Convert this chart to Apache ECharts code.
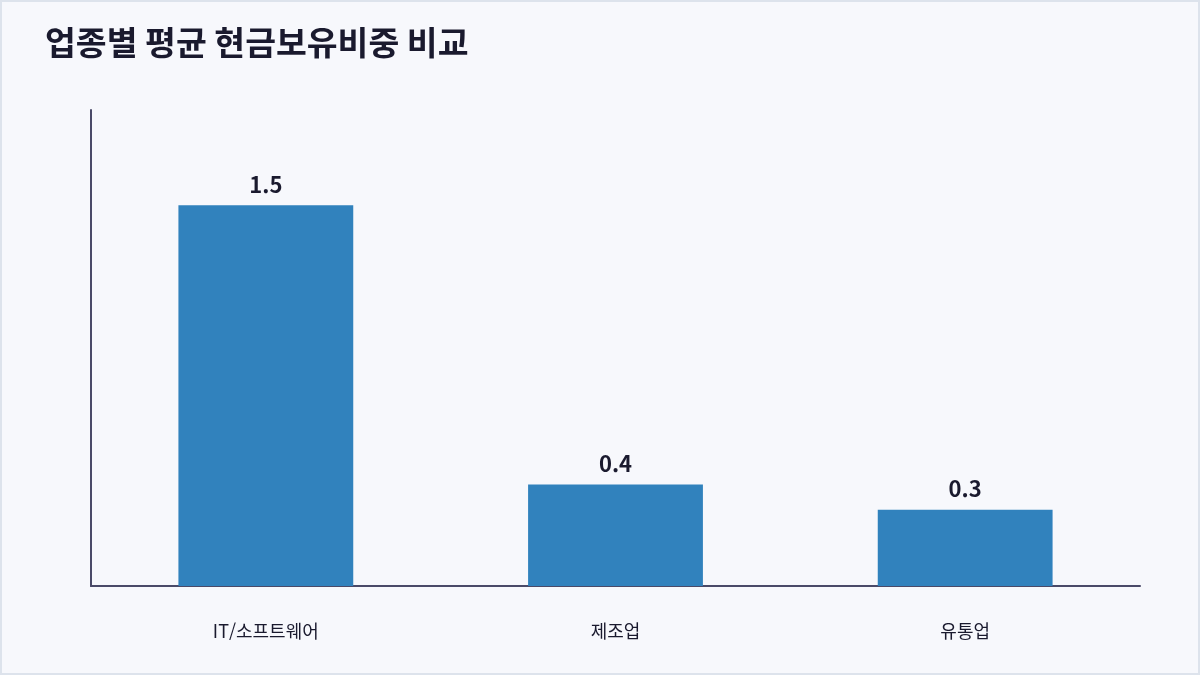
<!DOCTYPE html>
<html lang="ko">
<head>
<meta charset="UTF-8">
<title>업종별 평균 현금보유비중 비교</title>
<script src="https://cdn.jsdelivr.net/npm/echarts@6/dist/echarts.min.js"></script>
<style>
  html, body { margin: 0; padding: 0; background: #f7f8fc; }
  #chart { width: 1200px; height: 675px; }
</style>
</head>
<body>
<div id="chart"></div>
<script>
    var industries = ['IT/소프트웨어', '제조업', '유통업'];
    var cashRatio = [1.5, 0.4, 0.3];

    var chart = echarts.init(document.getElementById('chart'));
    var font = '"Noto Sans CJK KR", "Noto Sans", sans-serif';

    chart.setOption({
        backgroundColor: '#f7f8fc',
        textStyle: { fontFamily: font },
        title: {
            text: '업종별 평균 현금보유비중 비교',
            left: 40,
            top: 21,
            textStyle: { fontSize: 33.5, fontWeight: 'bold', color: '#1a1a2e', fontFamily: font }
        },
        graphic: [{
            type: 'rect',
            shape: { x: 1, y: 1, width: 1198, height: 673 },
            style: { fill: 'none', stroke: '#dde3ec', lineWidth: 2 },
            silent: true
        }],
        grid: { left: 91, right: 60, top: 110, bottom: 89 },
        xAxis: {
            type: 'category',
            data: industries,
            axisLine: { lineStyle: { color: '#4a4a68', width: 2 } },
            axisTick: { show: false },
            axisLabel: { margin: 36, fontSize: 18, color: '#1a1a2e', fontFamily: font }
        },
        yAxis: {
            type: 'value',
            min: 0,
            max: 1.875,
            axisLine: { show: true, lineStyle: { color: '#4a4a68', width: 2 } },
            axisTick: { show: false },
            axisLabel: { show: false },
            splitLine: { show: false }
        },
        series: [{
            type: 'bar',
            data: cashRatio,
            barWidth: '50%',
            itemStyle: { color: '#3182bd' },
            label: {
                show: true,
                position: 'top',
                distance: 10,
                fontSize: 22,
                fontWeight: 'bold',
                color: '#1a1a2e',
                fontFamily: font
            }
        }]
    });
</script>
</body>
</html>
